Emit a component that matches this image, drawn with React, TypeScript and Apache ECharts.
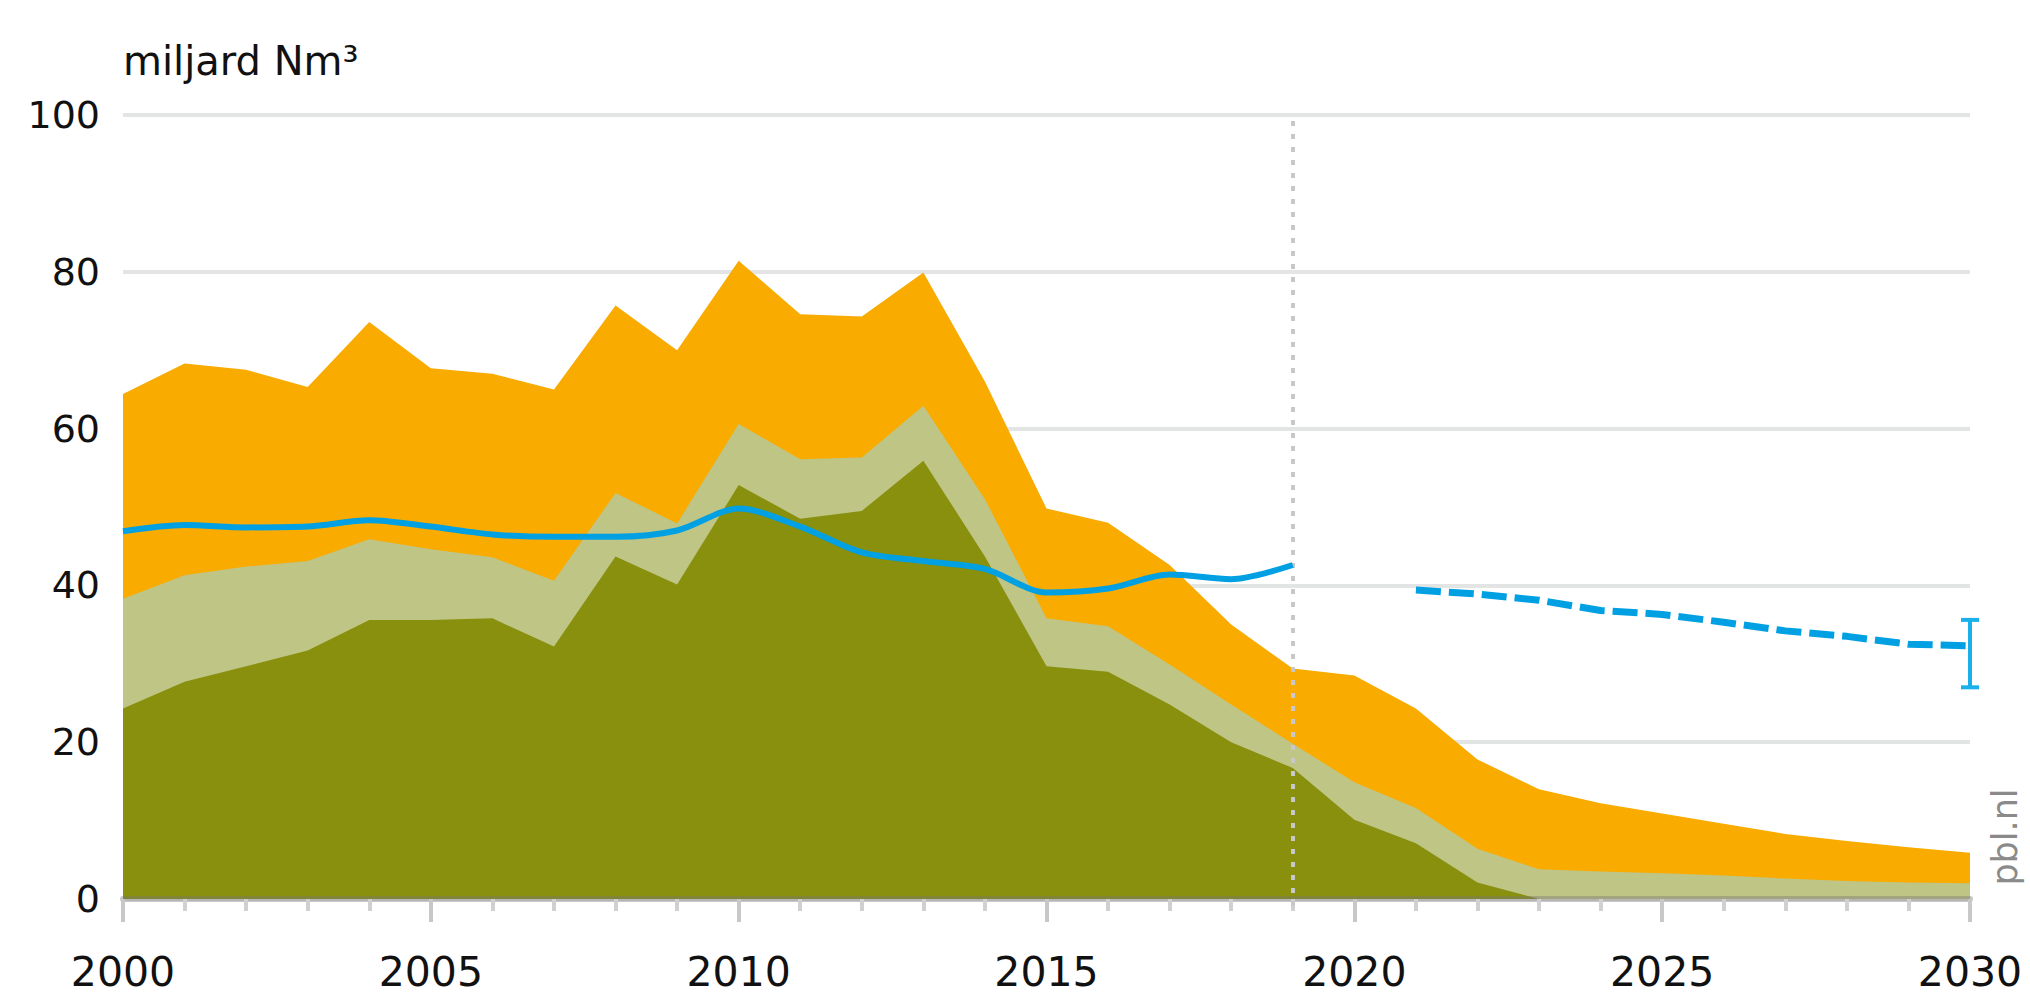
import React, { useEffect, useRef } from "react";
import * as echarts from "echarts";

// Years (x values)
const years = [
  2000, 2001, 2002, 2003, 2004, 2005, 2006, 2007, 2008, 2009, 2010,
  2011, 2012, 2013, 2014, 2015, 2016, 2017, 2018, 2019, 2020,
  2021, 2022, 2023, 2024, 2025, 2026, 2027, 2028, 2029, 2030,
];
// Stacked layers (miljard Nm3)
const darkGreen = [
  24.3, 27.7, 29.7, 31.7, 35.6, 35.6, 35.8, 32.2, 43.7, 40.1, 52.8,
  48.5, 49.5, 55.9, 43.7, 29.7, 29.0, 24.8, 20.0, 16.7, 10.1,
  7.1, 2.1, 0, 0, 0, 0, 0, 0, 0, 0,
];
const lightGreen = [
  14.0, 13.6, 12.7, 11.4, 10.3, 9.0, 7.8, 8.4, 8.1, 7.8, 7.8,
  7.6, 6.8, 7.0, 7.3, 6.1, 5.8, 5.1, 4.8, 3.1, 4.8,
  4.5, 4.3, 3.8, 3.5, 3.3, 3.0, 2.6, 2.3, 2.1, 2.0,
];
const orange = [
  26.1, 27.0, 25.1, 22.2, 27.7, 23.1, 23.4, 24.4, 23.9, 22.1, 20.8,
  18.5, 18.0, 17.0, 15.0, 14.0, 13.2, 12.7, 10.2, 9.6, 13.6,
  12.7, 11.4, 10.2, 8.7, 7.6, 6.6, 5.7, 5.1, 4.5, 3.9,
];
// Blue line (historic)
const usageYears = [
  2000, 2001, 2002, 2003, 2004, 2005, 2006, 2007, 2008, 2009,
  2010, 2011, 2012, 2013, 2014, 2015, 2016, 2017, 2018, 2019,
];
const usage = [
  46.9, 47.7, 47.4, 47.5, 48.3, 47.5, 46.5, 46.2, 46.2, 47.0,
  49.8, 47.5, 44.2, 43.1, 42.1, 39.1, 39.6, 41.4, 40.8, 42.6,
];
// Blue dashed projection
const projYears = [2021, 2022, 2023, 2024, 2025, 2026, 2027, 2028, 2029, 2030];
const projection = [39.4, 38.9, 38.1, 36.8, 36.3, 35.3, 34.2, 33.5, 32.5, 32.3];
// Error bar at 2030: [year, low, high]
const errorBar = [[2030, 27.0, 35.6]];
const dividerYear = 2019;

const FONT = "'DejaVu Sans', 'Noto Sans', sans-serif";
const BLUE = "#00a0e3";

export default function App() {
  const ref = useRef<HTMLDivElement>(null);

  useEffect(() => {
    if (!ref.current) return;
    const chart = echarts.init(ref.current, undefined, { renderer: "svg" });

    const lightTop = darkGreen.map((d, i) => d + lightGreen[i]);
    const total = lightTop.map((v, i) => v + orange[i]);
    const pairs = (xs: number[], ys: number[]) => xs.map((x, i) => [x, +ys[i].toFixed(2)]);

    const area = (name: string, data: number[][], color: string) => ({
      name,
      type: "line",
      data,
      showSymbol: false,
      symbol: "none",
      lineStyle: { width: 0 },
      areaStyle: { color, opacity: 1 },
      itemStyle: { color },
      z: 1,
    });

    chart.setOption({
      animation: false,
      grid: { left: 123, right: 60, top: 115, bottom: 104, containLabel: false },
      xAxis: {
        type: "value",
        min: 2000,
        max: 2030,
        interval: 5,
        z: 3,
        axisLine: { show: true, lineStyle: { color: "rgba(120,120,120,0.42)", width: 6 } },
        axisTick: { show: true, length: 23, lineStyle: { color: "#c8c8c8", width: 4 } },
        minorTick: { show: true, splitNumber: 5, length: 12, lineStyle: { color: "#d0d0d0", width: 4 } },
        splitLine: { show: false },
        axisLabel: {
          margin: 52,
          fontSize: 41,
          color: "#111",
          fontFamily: FONT,
          formatter: (v: number) => String(v),
        },
      },
      yAxis: {
        type: "value",
        min: 0,
        max: 100,
        interval: 20,
        axisLine: { show: false },
        axisTick: { show: false },
        splitLine: { show: true, lineStyle: { color: "#e3e4e4", width: 4 } },
        axisLabel: { margin: 23, fontSize: 38, color: "#111", fontFamily: FONT },
      },
      graphic: [
        {
          type: "text",
          x: 123,
          y: 61,
          style: {
            text: "miljard Nm³",
            fontSize: 40,
            fill: "#111",
            fontFamily: FONT,
            verticalAlign: "middle",
          },
        },
        {
          type: "text",
          x: 2005,
          y: 837,
          rotation: Math.PI / 2,
          style: {
            text: "pbl.nl",
            fontSize: 35,
            fill: "#8a8a8a",
            fontFamily: FONT,
            align: "center",
            verticalAlign: "middle",
          },
        },
      ],
      series: [
        area("total", pairs(years, total), "#f9ab00"),
        area("light", pairs(years, lightTop), "#bfc585"),
        area("dark", pairs(years, darkGreen), "#88900e"),
        {
          name: "divider",
          type: "line",
          data: [],
          z: 4,
          markLine: {
            silent: true,
            symbol: "none",
            label: { show: false },
            lineStyle: { color: "#c8c8c8", width: 4, type: [5, 8] },
            data: [[{ coord: [dividerYear, 0], y: 906 }, { coord: [dividerYear, 100] }]],
          },
        },
        {
          name: "usage",
          type: "line",
          data: pairs(usageYears, usage),
          smooth: 0.3,
          showSymbol: false,
          symbol: "none",
          lineStyle: { color: BLUE, width: 6 },
          z: 5,
        },
        {
          name: "projection",
          type: "line",
          data: pairs(projYears, projection),
          showSymbol: false,
          symbol: "none",
          lineStyle: { color: BLUE, width: 7, type: [25, 8] },
          z: 5,
        },
        {
          name: "range",
          type: "custom",
          clip: false,
          z: 6,
          data: errorBar,
          renderItem: (params: any, api: any) => {
            const x = api.value(0);
            const lo = api.coord([x, api.value(1)]);
            const hi = api.coord([x, api.value(2)]);
            const style = { stroke: "#1ab0ea", lineWidth: 4 };
            const cap = 9;
            return {
              type: "group",
              children: [
                { type: "line", shape: { x1: lo[0], y1: lo[1], x2: hi[0], y2: hi[1] }, style },
                { type: "line", shape: { x1: lo[0] - cap, y1: lo[1], x2: lo[0] + cap, y2: lo[1] }, style },
                { type: "line", shape: { x1: hi[0] - cap, y1: hi[1], x2: hi[0] + cap, y2: hi[1] }, style },
              ],
            };
          },
        },
      ],
    });

    return () => chart.dispose();
  }, []);

  return (
    <div
      ref={ref}
      style={{ position: "fixed", left: 0, top: 0, width: 2030, height: 1003, background: "#fff" }}
    />
  );
}
